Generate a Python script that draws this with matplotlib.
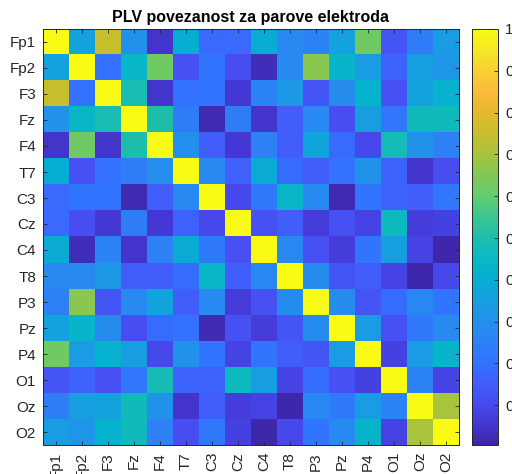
import numpy as np
import matplotlib
matplotlib.use('Agg')
import matplotlib.pyplot as plt
from matplotlib.colors import LinearSegmentedColormap

# electrode names (rows / columns)
electrodes = ['Fp1', 'Fp2', 'F3', 'Fz', 'F4', 'T7', 'C3', 'Cz',
              'C4', 'T8', 'P3', 'Pz', 'P4', 'O1', 'Oz', 'O2']

# PLV values, one list per row
row_Fp1 = [1.00, 0.36, 0.75, 0.31, 0.05, 0.40, 0.18, 0.18, 0.39, 0.28, 0.25, 0.36, 0.62, 0.13, 0.24, 0.34]
row_Fp2 = [0.36, 1.00, 0.20, 0.44, 0.62, 0.12, 0.21, 0.11, 0.03, 0.28, 0.66, 0.43, 0.34, 0.17, 0.35, 0.32]
row_F3  = [0.75, 0.20, 1.00, 0.49, 0.05, 0.20, 0.21, 0.06, 0.26, 0.33, 0.13, 0.29, 0.42, 0.12, 0.36, 0.42]
row_Fz  = [0.31, 0.44, 0.49, 1.00, 0.50, 0.24, 0.02, 0.24, 0.05, 0.15, 0.28, 0.11, 0.35, 0.22, 0.47, 0.47]
row_F4  = [0.05, 0.62, 0.05, 0.50, 1.00, 0.30, 0.15, 0.06, 0.25, 0.15, 0.37, 0.19, 0.10, 0.48, 0.31, 0.25]
row_T7  = [0.40, 0.12, 0.20, 0.24, 0.30, 1.00, 0.28, 0.16, 0.39, 0.19, 0.15, 0.20, 0.31, 0.17, 0.05, 0.11]
row_C3  = [0.18, 0.21, 0.21, 0.02, 0.15, 0.28, 1.00, 0.10, 0.23, 0.44, 0.28, 0.02, 0.21, 0.17, 0.15, 0.22]
row_Cz  = [0.18, 0.11, 0.06, 0.24, 0.06, 0.16, 0.10, 1.00, 0.12, 0.15, 0.07, 0.12, 0.09, 0.46, 0.07, 0.08]
row_C4  = [0.39, 0.03, 0.26, 0.05, 0.25, 0.39, 0.23, 0.12, 1.00, 0.27, 0.12, 0.07, 0.21, 0.35, 0.09, 0.01]
row_T8  = [0.28, 0.28, 0.33, 0.15, 0.15, 0.19, 0.44, 0.15, 0.27, 1.00, 0.29, 0.13, 0.15, 0.09, 0.01, 0.10]
row_P3  = [0.25, 0.66, 0.13, 0.28, 0.37, 0.15, 0.28, 0.07, 0.12, 0.29, 1.00, 0.29, 0.13, 0.19, 0.27, 0.21]
row_Pz  = [0.36, 0.43, 0.29, 0.11, 0.19, 0.20, 0.02, 0.12, 0.07, 0.13, 0.29, 1.00, 0.34, 0.12, 0.23, 0.28]
row_P4  = [0.62, 0.34, 0.42, 0.35, 0.10, 0.31, 0.21, 0.09, 0.21, 0.15, 0.13, 0.34, 1.00, 0.08, 0.34, 0.43]
row_O1  = [0.13, 0.17, 0.12, 0.22, 0.48, 0.17, 0.17, 0.46, 0.35, 0.09, 0.19, 0.12, 0.08, 1.00, 0.26, 0.09]
row_Oz  = [0.24, 0.35, 0.36, 0.47, 0.31, 0.05, 0.15, 0.07, 0.09, 0.01, 0.27, 0.23, 0.34, 0.26, 1.00, 0.70]
row_O2  = [0.34, 0.32, 0.42, 0.47, 0.25, 0.11, 0.22, 0.08, 0.01, 0.10, 0.21, 0.28, 0.43, 0.09, 0.70, 1.00]

plv = np.array([row_Fp1, row_Fp2, row_F3, row_Fz, row_F4, row_T7, row_C3, row_Cz,
                row_C4, row_T8, row_P3, row_Pz, row_P4, row_O1, row_Oz, row_O2])

cbar_ticks = [0.1, 0.2, 0.3, 0.4, 0.5, 0.6, 0.7, 0.8, 0.9, 1.0]

# rough parula (MATLAB) colormap
parula_pts = [
    (0.00, (62, 38, 168)), (0.05, (68, 55, 210)), (0.10, (72, 75, 240)),
    (0.15, (65, 95, 252)), (0.20, (50, 115, 255)), (0.25, (45, 130, 245)),
    (0.30, (35, 145, 235)), (0.35, (22, 160, 225)), (0.40, (5, 175, 210)),
    (0.45, (10, 185, 195)), (0.50, (30, 190, 170)), (0.55, (60, 198, 145)),
    (0.60, (100, 204, 110)), (0.65, (130, 200, 85)), (0.70, (170, 195, 60)),
    (0.75, (200, 190, 45)), (0.80, (228, 185, 45)), (0.85, (252, 185, 60)),
    (0.90, (250, 207, 50)), (0.95, (245, 230, 38)), (1.00, (249, 251, 21))]
parula = LinearSegmentedColormap.from_list(
    'parula', [(p, tuple(c / 255.0 for c in col)) for p, col in parula_pts])

plt.rcParams['font.family'] = 'Liberation Sans'
txt_col = (0.15, 0.15, 0.15)

fig = plt.figure(figsize=(5.12, 4.74), dpi=100, facecolor='white')
ax = fig.add_axes([43 / 512, 1 - 445 / 474, 416 / 512, 416 / 474])
cax = fig.add_axes([472 / 512, 1 - 445 / 474, 26 / 512, 416 / 474])

im = ax.imshow(plv, cmap=parula, vmin=0.005, vmax=1.0, aspect='auto',
               interpolation='nearest')

ax.set_xticks(np.arange(len(electrodes)))
ax.set_yticks(np.arange(len(electrodes)))
ax.set_xticklabels(electrodes, rotation=90)
ax.set_yticklabels(electrodes)
ax.tick_params(axis='both', direction='in', length=3, width=0.6, pad=5,
               labelsize=11, colors=txt_col, top=True, right=True)
for tl in ax.get_xticklabels() + ax.get_yticklabels():
    tl.set_color(txt_col)
for sp in ax.spines.values():
    sp.set_color(txt_col)
    sp.set_linewidth(0.7)

ax.set_title('PLV povezanost za parove elektroda', fontsize=11.5,
             fontweight='bold', color='black', pad=5)

cb = fig.colorbar(im, cax=cax, ticks=cbar_ticks)
cb.ax.set_yticklabels(['%.1f' % t if t < 1 else '1' for t in cbar_ticks])
cb.ax.tick_params(direction='in', length=3, width=0.6, pad=5, labelsize=11,
                  colors=txt_col)
cb.outline.set_edgecolor(txt_col)
cb.outline.set_linewidth(0.7)

fig.savefig('out.png', dpi=100, facecolor='white')
